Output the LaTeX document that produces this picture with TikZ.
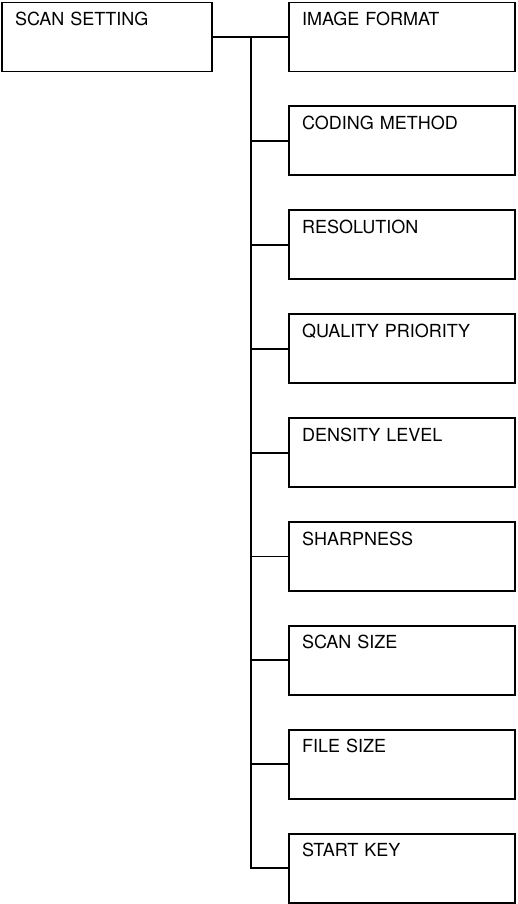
\documentclass[tikz,border=0pt]{standalone}
\usepackage{fontspec}
\setmainfont{TeX Gyre Heros}
\usetikzlibrary{positioning}

\tikzset{
  menubox/.style={draw, line width=1.9pt, outer sep=0pt, inner xsep=13pt, inner ysep=0pt,
    minimum height=69pt, text height=23pt, text depth=46pt, align=left,
    font=\fontsize{18}{20}\selectfont},
  leftbox/.style={menubox, minimum width=210pt, text width=184pt},
  itembox/.style={menubox, minimum width=226pt, text width=200pt},
  branch/.style={line width=1.9pt}
}

\begin{document}
\begin{tikzpicture}[x=1pt, y=-1pt, node distance=34.9pt]
\useasboundingbox (0,0) rectangle (517,904);
% main menu item and its sub items
\node[leftbox, anchor=north west] (scan) at (2,2.5) {SCAN SETTING};
\node[itembox, anchor=north west] (fmt) at (289,2.5) {IMAGE FORMAT};
\node[itembox, below=of fmt] (coding) {CODING METHOD};
\node[itembox, below=of coding] (res) {RESOLUTION};
\node[itembox, below=of res] (quality) {QUALITY PRIORITY};
\node[itembox, below=of quality] (density) {DENSITY LEVEL};
\node[itembox, below=of density] (sharp) {SHARPNESS};
\node[itembox, below=of sharp] (scansize) {SCAN SIZE};
\node[itembox, below=of scansize] (filesize) {FILE SIZE};
\node[itembox, below=of filesize] (startkey) {START KEY};
% tree lines
\coordinate (trunk) at (251,37);
\draw[branch] (scan.east) -- (fmt.west);
\draw[branch] (trunk) |- (startkey.west);
\foreach \n in {coding, res, quality, density, sharp, scansize, filesize}
  \draw[branch] (trunk |- \n.west) -- (\n.west);
\end{tikzpicture}
\end{document}
